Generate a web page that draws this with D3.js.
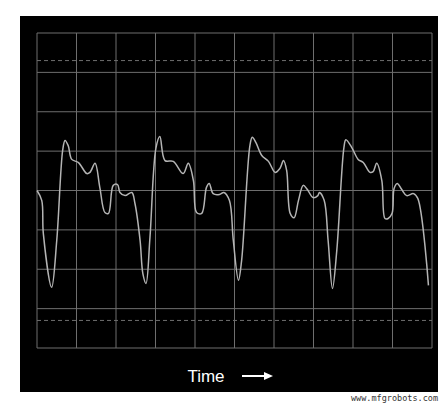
<!DOCTYPE html>
<html><head><meta charset="utf-8">
<script src="https://cdn.jsdelivr.net/npm/d3@7"></script>
<style>body{margin:0;background:#fff}</style></head>
<body><svg id="c" width="448" height="406"></svg>
<script>
const timeMs = [0,1.2,1.6,3.7,5.0,6.5,7.1,7.9,8.8,10.5,12.6,13.4,14.7,15.9,17.2,18.1,19.3,20.4,21.0,22.3,24.0,24.8,26.1,26.8,27.6,28.6,30.1,31.1,32.4,34.5,37.0,38.3,39.6,40.4,41.7,42.9,43.6,44.6,46.2,47.3,48.7,49.7,51.0,51.8,53.9,54.5,55.4,56.9,58.6,60.3,61.5,62.4,63.2,64.1,65.1,66.2,67.4,68.4,69.9,71.1,71.5,72.7,73.7,74.8,75.9,77.7,78.2,79.7,81.3,82.6,84.3,85.1,86.0,87.3,88.1,88.9,89.9,90.4,91.2,92.3,93.6,95.3,96.4,99.1];
const volts = [0,-0.25,-1.09,-2.46,-1.27,1.02,1.27,1.14,0.79,0.71,0.43,0.46,0.69,0.08,-0.56,-0.58,0.13,0.15,-0.05,-0.13,-0.05,-0.33,-1.27,-2.11,-2.36,-1.19,1.07,1.37,0.76,0.74,0.43,0.69,0.25,-0.56,-0.58,0.08,0.18,-0.08,-0.10,-0.05,-0.25,-1.27,-2.28,-1.78,1.14,1.35,1.22,0.89,0.74,0.46,0.56,0.76,0.51,-0.58,-0.69,-0.25,0.13,0.03,-0.18,-0.13,-0.05,-0.25,-1.27,-2.49,-1.52,1.09,1.29,1.09,0.79,0.71,0.46,0.48,0.69,0.25,-0.71,-0.71,-0.58,0.05,0.18,0.03,-0.13,-0.08,-0.20,-2.41];
const xGrid = d3.range(0,101,10);
const yGrid = d3.range(-4,4.01,1);
const dashedLevels = [3.3,-3.3];
const xLabel = "Time";
const watermark = "www.mfgrobots.com";

const svg = d3.select("#c");
svg.append("rect").attr("x",20).attr("y",16).attr("width",418).attr("height",376).attr("fill","#000");
const x = d3.scaleLinear().domain([0,100]).range([37,432]);
const y = d3.scaleLinear().domain([-4,4]).range([348,33]);
const g = svg.append("g");
g.selectAll(".v").data(xGrid).join("line").attr("x1",d=>x(d)).attr("x2",d=>x(d)).attr("y1",y(4)).attr("y2",y(-4)).attr("stroke","#6e6e6e").attr("stroke-width",1);
g.selectAll(".h").data(yGrid).join("line").attr("x1",x(0)).attr("x2",x(100)).attr("y1",d=>y(d)).attr("y2",d=>y(d)).attr("stroke","#6e6e6e").attr("stroke-width",1);
g.selectAll(".d").data(dashedLevels).join("line").attr("x1",x(0)).attr("x2",x(100)).attr("y1",d=>y(d)).attr("y2",d=>y(d)).attr("stroke","#6e6e6e").attr("stroke-dasharray","4,3");
const pts = timeMs.map((t,i)=>[t,volts[i]]);
svg.append("path").datum(pts).attr("fill","none").attr("stroke","#b4b4b4").attr("stroke-width",1.5)
  .attr("d",d3.line().x(d=>x(d[0])).y(d=>y(d[1])).curve(d3.curveCatmullRom.alpha(0.5)));
svg.append("text").attr("x",206).attr("y",382).attr("text-anchor","middle").attr("fill","#fff").attr("font-family","Liberation Sans, Arial, sans-serif").attr("font-size",17).text(xLabel);
svg.append("line").attr("x1",242).attr("x2",266).attr("y1",376).attr("y2",376).attr("stroke","#fff").attr("stroke-width",2);
svg.append("path").attr("d","M264,372 L273,376 L264,380 Z").attr("fill","#fff");
svg.append("text").attr("x",438).attr("y",401).attr("text-anchor","end").attr("fill","#333").attr("font-family","DejaVu Sans Mono, monospace").attr("font-size",8.5).text(watermark);
</script></body></html>
